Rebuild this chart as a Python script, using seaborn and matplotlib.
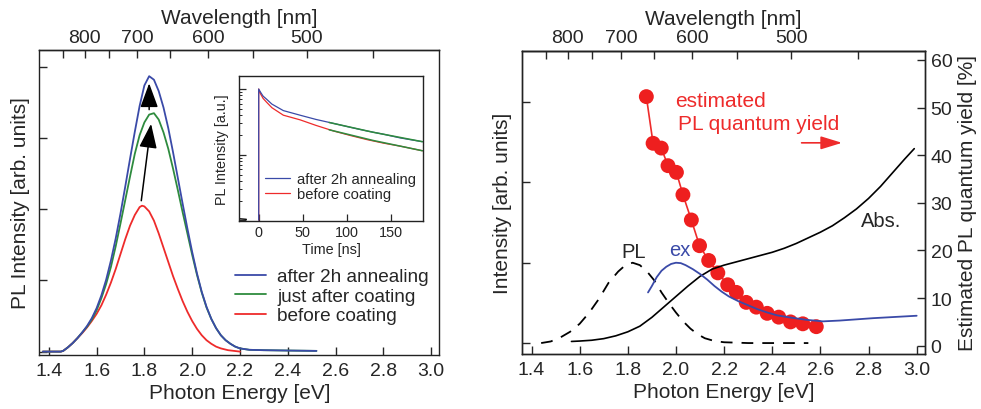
import numpy as np
import matplotlib
matplotlib.use('Agg')
import matplotlib.pyplot as plt
import seaborn as sns

sns.set_style('ticks')
plt.rcParams['font.family'] = ['Liberation Sans', 'DejaVu Sans']

# ---- left panel: PL spectra (photon energy [eV], intensity [arb.])
blue_e = [1.375, 1.45, 1.46, 1.48, 1.50, 1.52, 1.54, 1.56, 1.58, 1.60, 1.62, 1.64, 1.66, 1.68,
          1.70, 1.72, 1.74, 1.76, 1.78, 1.80, 1.82, 1.84, 1.86, 1.88, 1.90, 1.92, 1.94, 1.96,
          1.98, 2.00, 2.02, 2.04, 2.06, 2.08, 2.10, 2.12, 2.14, 2.16, 2.18, 2.20, 2.24, 2.30,
          2.40, 2.52]
blue_v = [0.0, 0.0, 0.01, 0.06, 0.12, 0.19, 0.27, 0.36, 0.47, 0.61, 0.79, 1.01, 1.28, 1.59,
          1.94, 2.32, 2.71, 3.09, 3.45, 3.74, 3.87, 3.82, 3.66, 3.43, 3.14, 2.80, 2.44, 2.08,
          1.73, 1.40, 1.10, 0.84, 0.63, 0.46, 0.33, 0.23, 0.16, 0.11, 0.07, 0.045, 0.025, 0.02,
          0.015, 0.01]
green_e = [1.375, 1.45, 1.46, 1.48, 1.50, 1.52, 1.54, 1.56, 1.58, 1.60, 1.62, 1.64, 1.66, 1.68,
           1.70, 1.72, 1.74, 1.76, 1.78, 1.80, 1.82, 1.84, 1.86, 1.88, 1.90, 1.92, 1.94, 1.96,
           1.98, 2.00, 2.02, 2.04, 2.06, 2.08, 2.10, 2.12, 2.14, 2.16, 2.18, 2.20, 2.24, 2.30,
           2.40, 2.52]
green_v = [0.0, 0.0, 0.01, 0.06, 0.12, 0.19, 0.27, 0.35, 0.45, 0.58, 0.75, 0.95, 1.19, 1.48,
           1.80, 2.13, 2.46, 2.78, 3.04, 3.22, 3.33, 3.35, 3.26, 3.08, 2.85, 2.57, 2.27, 1.96,
           1.66, 1.36, 1.08, 0.83, 0.62, 0.46, 0.33, 0.23, 0.16, 0.11, 0.07, 0.045, 0.025, 0.02,
           0.015, 0.01]
red_e = [1.375, 1.45, 1.46, 1.48, 1.50, 1.52, 1.54, 1.56, 1.58, 1.60, 1.62, 1.64, 1.66, 1.68,
         1.70, 1.72, 1.74, 1.76, 1.78, 1.79, 1.80, 1.82, 1.84, 1.86, 1.88, 1.90, 1.92, 1.94,
         1.96, 1.98, 2.00, 2.02, 2.04, 2.06, 2.08, 2.10, 2.12, 2.15, 2.20]
red_v = [0.0, 0.0, 0.01, 0.06, 0.12, 0.19, 0.26, 0.34, 0.43, 0.53, 0.65, 0.80, 0.97, 1.16,
         1.37, 1.58, 1.77, 1.92, 2.03, 2.05, 2.04, 1.97, 1.84, 1.66, 1.46, 1.26, 1.06, 0.88,
         0.71, 0.56, 0.43, 0.32, 0.23, 0.16, 0.11, 0.07, 0.045, 0.02, 0.0]

# ---- inset: PL decay (time [ns], normalised intensity)
t_pre = [-22, -14]
i_pre = [0.0106, 0.0104]
t_dec = [0, 0, 2, 5, 9, 15, 28, 47, 65, 85, 105, 123, 142, 161, 186]
i_dec_blue = [0.0101, 1.0, 0.90, 0.78, 0.70, 0.59, 0.47, 0.40, 0.345, 0.30, 0.26, 0.23, 0.205, 0.18, 0.158]
i_dec_red = [0.0101, 1.0, 0.85, 0.72, 0.63, 0.52, 0.40, 0.34, 0.28, 0.23, 0.195, 0.17, 0.15, 0.135, 0.115]
t_fit = [80, 130, 186]
i_fit_blue = [0.31, 0.22, 0.158]
i_fit_red = [0.24, 0.165, 0.115]

# ---- right panel
pl_e = [1.44, 1.48, 1.52, 1.56, 1.60, 1.64, 1.68, 1.72, 1.76, 1.79, 1.82, 1.85, 1.88, 1.91,
        1.94, 1.97, 2.00, 2.03, 2.06, 2.09, 2.12, 2.16, 2.20, 2.30, 2.55]
pl_v = [0.0, 0.02, 0.07, 0.14, 0.24, 0.38, 0.55, 0.75, 0.89, 0.97, 1.0, 0.97, 0.89, 0.78,
        0.63, 0.50, 0.38, 0.27, 0.18, 0.11, 0.06, 0.025, 0.01, 0.0, 0.0]
abs_e = [1.566, 1.60, 1.65, 1.70, 1.75, 1.80, 1.85, 1.90, 1.95, 2.00, 2.05, 2.10, 2.15, 2.20,
         2.25, 2.30, 2.35, 2.40, 2.45, 2.50, 2.55, 2.60, 2.65, 2.70, 2.75, 2.80, 2.85, 2.90,
         2.95, 2.99]
abs_v = [0.02, 0.025, 0.035, 0.055, 0.09, 0.14, 0.21, 0.32, 0.45, 0.58, 0.71, 0.83, 0.92, 0.97,
         1.01, 1.05, 1.09, 1.13, 1.18, 1.24, 1.31, 1.38, 1.46, 1.56, 1.67, 1.80, 1.95, 2.12,
         2.29, 2.42]
ex_e = [1.884, 1.90, 1.92, 1.94, 1.96, 1.98, 2.00, 2.02, 2.04, 2.07, 2.10, 2.13, 2.16, 2.19,
        2.22, 2.26, 2.30, 2.34, 2.38, 2.42, 2.47, 2.54, 2.61, 2.68, 2.82, 3.00]
ex_v = [0.63, 0.71, 0.82, 0.90, 0.95, 0.985, 1.0, 0.995, 0.97, 0.92, 0.86, 0.79, 0.71, 0.64,
        0.58, 0.52, 0.47, 0.42, 0.38, 0.345, 0.32, 0.29, 0.27, 0.28, 0.31, 0.34]
qy_e = [1.877, 1.905, 1.939, 1.967, 2.002, 2.029, 2.064, 2.098, 2.136, 2.174, 2.215, 2.251,
        2.292, 2.334, 2.379, 2.427, 2.476, 2.527, 2.583]
qy_v = [52.3, 42.5, 41.5, 37.8, 36.4, 31.7, 26.4, 21.0, 17.9, 15.3, 12.8, 11.2, 9.1, 8.1,
        6.8, 6.0, 5.0, 4.6, 4.0]

ev_ticks = [1.4, 1.6, 1.8, 2.0, 2.2, 2.4, 2.6, 2.8, 3.0]
nm_ticks = [850, 800, 750, 700, 650, 600, 550, 500, 450]
nm_labels = ['', '800', '', '700', '', '600', '', '500', '']

BLUE = '#3a4aa8'
GREEN = '#2e8b3e'
RED = '#ee2b2b'
FS_LAB = 15
FS_TICK = 14


def ev2nm(x):
    x = np.asarray(x, dtype=float)
    with np.errstate(divide='ignore', invalid='ignore'):
        return 1239.84 / x


def style_energy_axis(ax):
    ax.set_xlim(1.36, 3.035)
    ax.set_xticks(ev_ticks)
    ax.set_xticklabels([f'{v:.1f}' for v in ev_ticks])
    ax.tick_params(axis='both', direction='in', length=6, width=1, labelsize=FS_TICK, pad=5)
    ax.tick_params(axis='y', labelleft=False)
    ax.set_xlabel('Photon Energy [eV]', fontsize=FS_LAB, labelpad=3)
    for s in ax.spines.values():
        s.set_linewidth(1.0)
        s.set_color('#222222')
    sec = ax.secondary_xaxis('top', functions=(ev2nm, ev2nm))
    sec.set_xticks(nm_ticks, labels=nm_labels)
    sec.tick_params(direction='in', length=6, width=1, labelsize=FS_TICK, pad=3)
    sec.set_xlabel('Wavelength [nm]', fontsize=FS_LAB, labelpad=4)
    sec.spines['top'].set_linewidth(1.0)


fig = plt.figure(figsize=(9.81, 4.10), dpi=100)

# ---------------- left panel
ax = fig.add_axes([0.040, 0.132, 0.408, 0.744])
sns.lineplot(x=red_e, y=red_v, color=RED, lw=1.3, estimator=None, ax=ax, label='before coating')
sns.lineplot(x=green_e, y=green_v, color=GREEN, lw=1.3, estimator=None, ax=ax, label='just after coating')
sns.lineplot(x=blue_e, y=blue_v, color=BLUE, lw=1.3, estimator=None, ax=ax, label='after 2h annealing')
ax.set_ylim(-0.046, 4.24)
ax.set_yticks([0, 1, 2, 3, 4])
style_energy_axis(ax)
ax.set_ylabel('PL Intensity [arb. units]', fontsize=FS_LAB, labelpad=7)
lines = ax.get_lines()
ax.legend(handles=[lines[2], lines[1], lines[0]], loc='upper left', bbox_to_anchor=(0.49, 0.285),
          frameon=False, fontsize=13.7, handlelength=1.6, handletextpad=0.6,
          labelspacing=0.12, borderpad=0, borderaxespad=0)

arrow_kw = dict(arrowstyle='-|>,head_length=0.6,head_width=0.22', color='black', lw=1.1,
                mutation_scale=25, shrinkA=0, shrinkB=0)
ax.annotate('', xy=(1.828, 3.20), xytext=(1.787, 2.12), arrowprops=arrow_kw)
ax.annotate('', xy=(1.82, 3.77), xytext=(1.82, 3.40), arrowprops=arrow_kw)

# ---------------- inset
axin = fig.add_axes([0.2436, 0.4585, 0.1876, 0.3537])
sns.lineplot(x=t_pre, y=i_pre, color='black', lw=1.0, estimator=None, sort=False, ax=axin)
sns.lineplot(x=t_dec, y=i_dec_red, color=RED, lw=0.9, estimator=None, sort=False, ax=axin,
             label='before coating')
sns.lineplot(x=t_dec, y=i_dec_blue, color=BLUE, lw=0.9, estimator=None, sort=False, ax=axin,
             label='after 2h annealing')
sns.lineplot(x=t_fit, y=i_fit_blue, color=GREEN, lw=1.1, estimator=None, ax=axin)
sns.lineplot(x=t_fit, y=i_fit_red, color=GREEN, lw=1.1, estimator=None, ax=axin)
axin.set_yscale('log')
axin.set_xlim(-22.4, 186.7)
axin.set_ylim(0.0098, 1.58)
axin.set_xticks([0, 50, 100, 150])
axin.yaxis.set_major_formatter(matplotlib.ticker.NullFormatter())
axin.yaxis.set_minor_formatter(matplotlib.ticker.NullFormatter())
axin.tick_params(axis='both', which='major', direction='in', length=5, width=0.9,
                 labelsize=10.4, pad=3)
axin.tick_params(axis='y', which='minor', direction='in', length=2.5, width=0.7)
axin.set_xlabel('Time [ns]', fontsize=10.4, labelpad=2)
axin.set_ylabel('PL Intensity [a.u.]', fontsize=10.4, labelpad=4)
for s in axin.spines.values():
    s.set_linewidth(1.0)
    s.set_color('#222222')
hin = axin.get_lines()
axin.legend(handles=[hin[2], hin[1]], loc='upper left', bbox_to_anchor=(0.14, 0.335),
            frameon=False, fontsize=10.6, handlelength=1.7, handletextpad=0.5,
            labelspacing=0.05, borderpad=0, borderaxespad=0)

# ---------------- right panel
ax2 = fig.add_axes([0.532, 0.134, 0.411, 0.740])
ax3 = ax2.twinx()
ax2.set_zorder(ax3.get_zorder() + 1)
ax2.patch.set_visible(False)

sns.lineplot(x=pl_e, y=pl_v, color='black', lw=1.3, estimator=None, ax=ax2,
             linestyle=(0, (6.5, 5)))
sns.lineplot(x=abs_e, y=abs_v, color='black', lw=1.2, estimator=None, ax=ax2)
sns.lineplot(x=ex_e, y=ex_v, color=BLUE, lw=1.3, estimator=None, ax=ax2)
ax2.set_ylim(-0.137, 3.64)
ax2.set_yticks([0, 1, 2, 3])
style_energy_axis(ax2)
ax2.set_ylabel('Intensity [arb. units]', fontsize=FS_LAB, labelpad=7)

sns.lineplot(x=qy_e, y=qy_v, color=RED, lw=1.2, estimator=None, ax=ax3)
sns.scatterplot(x=qy_e, y=qy_v, color='#ee1f1f', s=115, edgecolor='none', ax=ax3, zorder=3)
ax3.set_ylim(-1.75, 61.95)
ax3.set_yticks(range(0, 61, 10))
ax3.tick_params(axis='y', direction='in', length=6, width=1, labelsize=FS_TICK, pad=4)
ax3.set_ylabel('Estimated PL quantum yield [%]', fontsize=FS_LAB, labelpad=4)
for s in ax3.spines.values():
    s.set_linewidth(1.0)
    s.set_color('#222222')

ax2.text(1.773, 1.07, 'PL', fontsize=14.5, ha='left', va='baseline')
ax2.text(1.97, 1.09, 'ex', fontsize=14.5, color=BLUE, ha='left', va='baseline')
ax2.text(2.769, 1.46, 'Abs.', fontsize=14.5, ha='left', va='baseline')
ax3.text(1.995, 50.4, 'estimated', fontsize=15, color=RED, ha='left', va='baseline')
ax3.text(2.007, 45.5, 'PL quantum yield', fontsize=15, color=RED, ha='left', va='baseline')
ax3.annotate('', xy=(2.69, 42.6), xytext=(2.522, 42.6),
             arrowprops=dict(arrowstyle='-|>,head_length=0.65,head_width=0.2', color=RED,
                             lw=1.2, mutation_scale=20, shrinkA=0, shrinkB=0))

fig.savefig('out.png', dpi=100)
